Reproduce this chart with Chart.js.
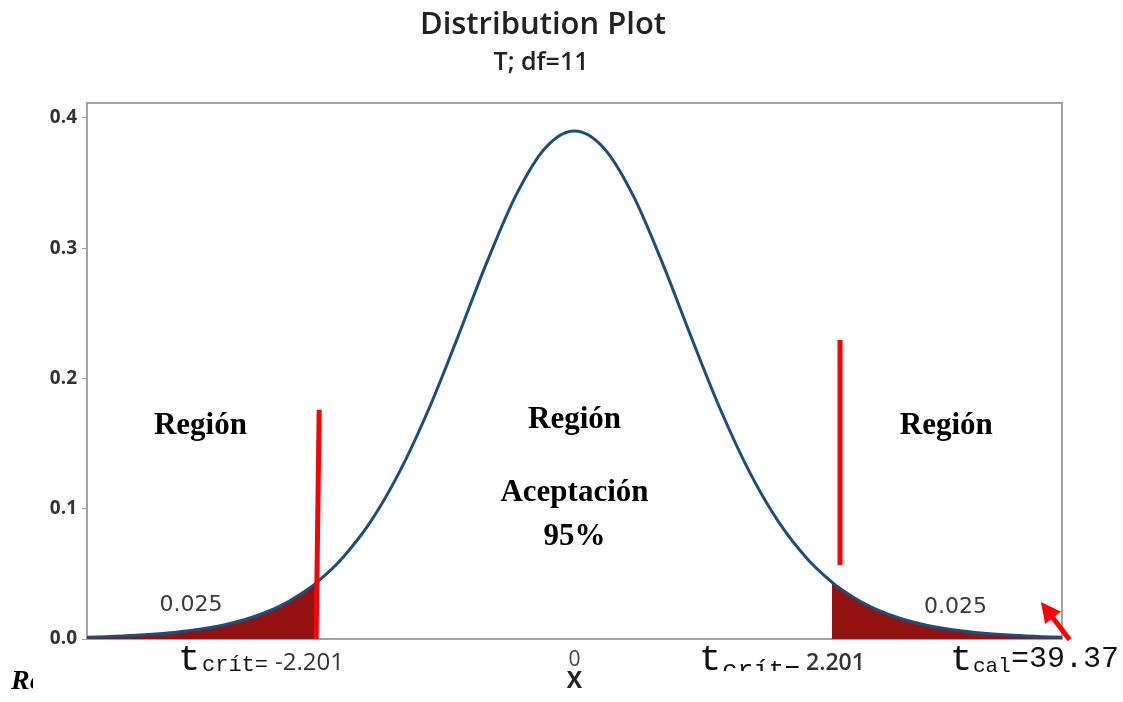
<!DOCTYPE html>
<html>
<head>
<meta charset="utf-8">
<title>Distribution Plot</title>
<script src="https://cdn.jsdelivr.net/npm/chart.js@4.4.0/dist/chart.umd.min.js"></script>
<style>
  html, body { margin: 0; padding: 0; background: #fff; }
  #wrap { width: 1123px; height: 702px; }
</style>
</head>
<body>
<div id="wrap"><canvas id="distChart" width="1123" height="702"></canvas></div>
<script>
// T distribution, df = 11 (density)
const curveX = [-4.25, -4, -3.75, -3.5, -3.25, -3, -2.75, -2.5, -2.25, -2.201, -2, -1.75, -1.5, -1.25, -1, -0.75, -0.5, -0.25,
  0, 0.25, 0.5, 0.75, 1, 1.25, 1.5, 1.75, 2, 2.201, 2.25, 2.5, 2.75, 3, 3.25, 3.5, 3.75, 4, 4.25];
const curveY = [0.0012, 0.0018, 0.0028, 0.0044, 0.0069, 0.0108, 0.0169, 0.0262, 0.0402, 0.0437, 0.0607, 0.0893, 0.1277, 0.1758, 0.2314, 0.2891, 0.3408, 0.3770,
  0.3900, 0.3770, 0.3408, 0.2891, 0.2314, 0.1758, 0.1277, 0.0893, 0.0607, 0.0437, 0.0402, 0.0262, 0.0169, 0.0108, 0.0069, 0.0044, 0.0028, 0.0018, 0.0012];
const tCrit = 2.201;
const yTicks = [0, 0.1, 0.2, 0.3, 0.4];
const xTicks = [0];

// red marker lines (x values, y values)
const leftMarkX = [-2.184, -2.21];
const leftMarkY = [0.176, 0];
const rightMarkX = [2.271, 2.271];
const rightMarkY = [0.2296, 0.0568];

// arrow towards t_cal (tail -> tip)
const arrowX = [4.235, 3.99];
const arrowY = [-0.0005, 0.0284];

// text annotations: [text, x, y]
const regionLabels = [
  ['Región', -3.2, 0.1635],
  ['Región', 0.0, 0.168],
  ['Aceptación', 0.0, 0.112],
  ['95%', 0.0, 0.0783],
  ['Región', 3.18, 0.1635]
];
const areaLabels = [
  ['0.025', -3.28, 0.026],
  ['0.025', 3.26, 0.0246]
];

const toPts = (xs, ys) => xs.map((x, i) => ({ x: x, y: ys[i] }));
const curvePts = toPts(curveX, curveY);
const leftTail = curvePts.filter(p => p.x <= -tCrit);
const rightTail = curvePts.filter(p => p.x >= tCrit);

const frameColor = '#a3a3a3';

const annotations = {
  id: 'annotations',
  beforeDatasetsDraw(chart) {
    const { ctx, chartArea: a } = chart;
    ctx.save();
    ctx.strokeStyle = frameColor;
    ctx.lineWidth = 2;
    ctx.beginPath();
    ctx.moveTo(a.left, a.top);
    ctx.lineTo(a.right, a.top);
    ctx.lineTo(a.right, a.bottom);
    ctx.stroke();
    ctx.restore();
  },
  afterDraw(chart) {
    const { ctx, chartArea: a } = chart;
    const xs = chart.scales.x, ys = chart.scales.y;
    ctx.save();

    // titles
    ctx.fillStyle = '#222';
    ctx.textAlign = 'center';
    ctx.textBaseline = 'middle';
    ctx.font = '600 31px "Open Sans"';
    ctx.fillText('Distribution Plot', 543, 25);
    ctx.font = '600 25px "Open Sans"';
    ctx.fillText('T; df=11', 541, 63);

    // x axis tick label and title
    ctx.fillStyle = '#444';
    ctx.font = '21px "Open Sans"';
    xTicks.forEach(v => ctx.fillText(String(v), xs.getPixelForValue(v), a.bottom + 21));
    ctx.fillStyle = '#222';
    ctx.font = 'bold 23px "Open Sans"';
    ctx.fillText('X', xs.getPixelForValue(0), a.bottom + 42);

    // region text
    ctx.fillStyle = '#000';
    ctx.font = 'bold 31px "Liberation Serif"';
    regionLabels.forEach(([t, x, y]) => ctx.fillText(t, xs.getPixelForValue(x), ys.getPixelForValue(y)));

    ctx.fillStyle = '#3a3a3a';
    ctx.font = '22px "DejaVu Sans"';
    areaLabels.forEach(([t, x, y]) => ctx.fillText(t, xs.getPixelForValue(x), ys.getPixelForValue(y)));

    // t labels under the axis
    const tLabel = (x, sub, subFont, subX, subY, rest, restFont, restX, restY, clipY) => {
      ctx.save();
      if (clipY) { ctx.beginPath(); ctx.rect(0, 0, 1123, clipY); ctx.clip(); }
      ctx.textAlign = 'left';
      ctx.textBaseline = 'alphabetic';
      ctx.fillStyle = '#111';
      ctx.font = '37px "Liberation Mono"';
      ctx.fillText('t', x - 4, 670);
      ctx.font = subFont;
      ctx.fillText(sub, subX, subY);
      ctx.font = restFont;
      ctx.fillStyle = rest.startsWith('=') ? '#111' : '#333';
      ctx.fillText(rest, restX, restY);
      ctx.restore();
    };
    tLabel(182, 'crít=', '22px "Liberation Mono"', 202, 671, '-2.201', '24px "Open Sans"', 275, 670);
    tLabel(703, 'crít=', '26px "Liberation Mono"', 722, 678, '2.201', '600 23px "Open Sans"', 806, 670, 671);
    tLabel(954, 'cal', '21px "Liberation Mono"', 973, 672, '=39.37', '30px "Liberation Mono"', 1011, 667);

    // arrow to t_cal
    const x0 = xs.getPixelForValue(arrowX[0]), y0 = ys.getPixelForValue(arrowY[0]);
    const x1 = xs.getPixelForValue(arrowX[1]), y1 = ys.getPixelForValue(arrowY[1]);
    const ang = Math.atan2(y1 - y0, x1 - x0);
    const c = Math.cos(ang), s = Math.sin(ang);
    ctx.strokeStyle = '#ff0000';
    ctx.fillStyle = '#ff0000';
    ctx.lineWidth = 5;
    ctx.beginPath();
    ctx.moveTo(x0, y0);
    ctx.lineTo(x1 - 14 * c, y1 - 14 * s);
    ctx.stroke();
    ctx.beginPath();
    ctx.moveTo(x1, y1);
    ctx.lineTo(x1 - 20 * c + 10 * s, y1 - 20 * s - 10 * c);
    ctx.lineTo(x1 - 20 * c - 10 * s, y1 - 20 * s + 10 * c);
    ctx.closePath();
    ctx.fill();

    // cut-off caption text at the bottom left
    ctx.save();
    ctx.beginPath();
    ctx.rect(0, 640, 33, 60);
    ctx.clip();
    ctx.fillStyle = '#000';
    ctx.textAlign = 'left';
    ctx.font = 'italic bold 28px "Liberation Serif"';
    ctx.fillText('Re', 11, 682);
    ctx.restore();

    ctx.restore();
  }
};

const ctx = document.getElementById('distChart').getContext('2d');
new Chart(ctx, {
  type: 'line',
  data: {
    datasets: [
      { data: toPts(leftMarkX, leftMarkY), borderColor: '#ff0000', borderWidth: 5, pointRadius: 0, order: 0 },
      { data: toPts(rightMarkX, rightMarkY), borderColor: '#ff0000', borderWidth: 5, pointRadius: 0, order: 0 },
      { data: curvePts, borderColor: '#1d4e7a', borderWidth: 3, pointRadius: 0, cubicInterpolationMode: 'monotone', order: 1 },
      { data: leftTail, borderWidth: 0, pointRadius: 0, fill: 'origin', backgroundColor: '#921212', cubicInterpolationMode: 'monotone', order: 2 },
      { data: rightTail, borderWidth: 0, pointRadius: 0, fill: 'origin', backgroundColor: '#921212', cubicInterpolationMode: 'monotone', order: 2 }
    ]
  },
  options: {
    responsive: false,
    animation: false,
    layout: { padding: { left: 0, top: 103, right: 61, bottom: 0 } },
    plugins: { legend: { display: false }, tooltip: { enabled: false } },
    scales: {
      x: {
        type: 'linear',
        min: -4.17,
        max: 4.17,
        afterBuildTicks: (scale) => { scale.ticks = xTicks.map(v => ({ value: v })); },
        afterFit: (scale) => { scale.height = 63; },
        grid: { drawOnChartArea: false, drawTicks: false },
        border: { color: frameColor, width: 2 },
        ticks: { display: false }
      },
      y: {
        min: 0,
        max: 0.4115,
        afterBuildTicks: (scale) => { scale.ticks = yTicks.map(v => ({ value: v })); },
        afterFit: (scale) => { scale.width = 87; },
        grid: { drawOnChartArea: false, tickLength: 5, color: frameColor },
        border: { color: frameColor, width: 2 },
        ticks: { padding: 5, color: '#333', font: { family: 'Open Sans', size: 19, weight: 'bold' }, callback: (v) => v.toFixed(1) }
      }
    }
  },
  plugins: [annotations]
});
</script>
</body>
</html>
